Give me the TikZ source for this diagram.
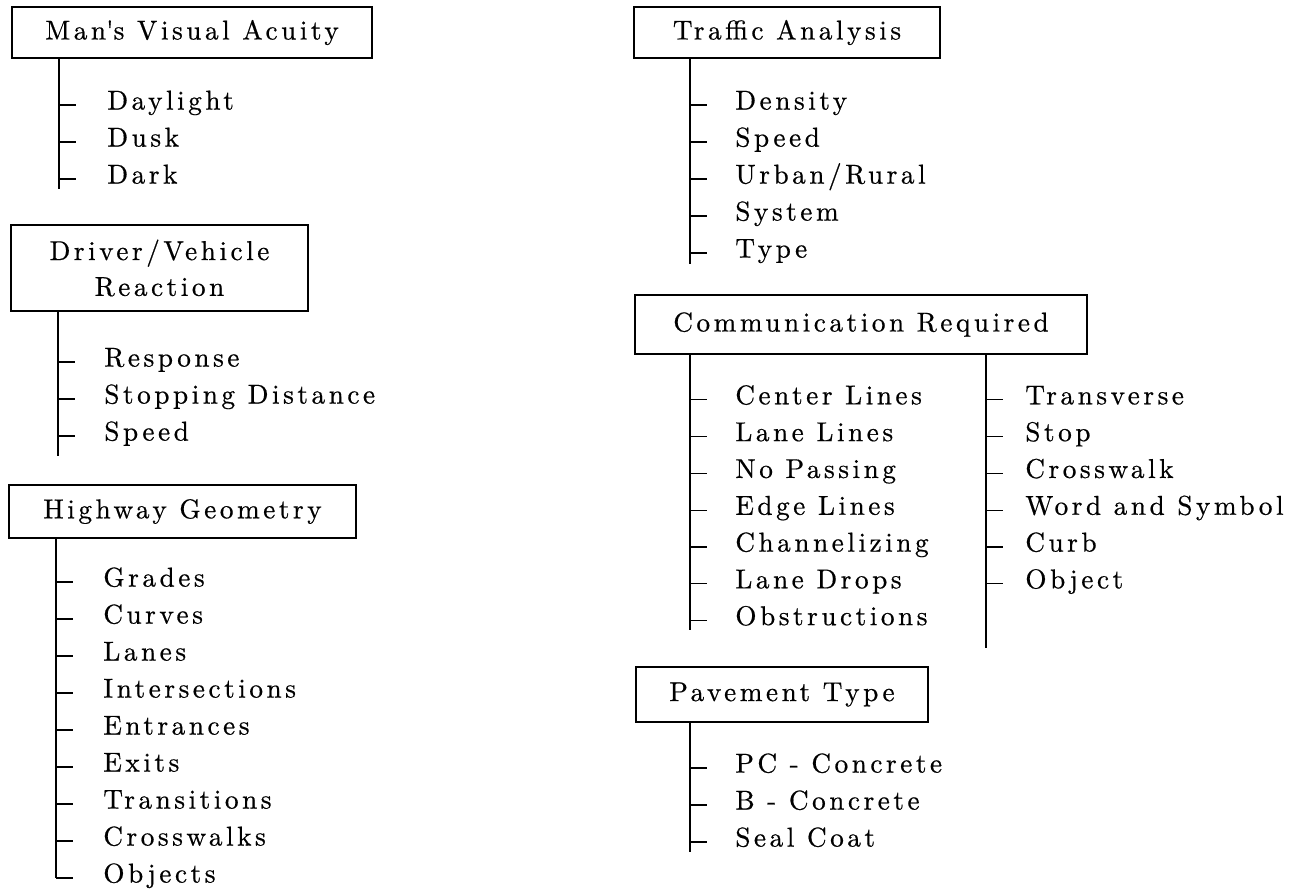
\documentclass[tikz,border=0pt]{standalone}
\usepackage{fontspec}
\newfontfamily\spaced{lmroman10-regular.otf}[LetterSpace=13,FakeBold=0.6]

\begin{document}
\begin{tikzpicture}[x=0.02cm,y=-0.02cm,font=\spaced\fontsize{15.5}{20.4}\selectfont,
  hdr/.style={draw,line width=0.8pt,inner sep=2pt,align=center},
  item/.style={anchor=west,inner sep=0pt,text height=1.6ex,text depth=0.4ex},
  stem/.style={line width=0.7pt}]
  \useasboundingbox (0,0) rectangle (1313,894);
  % left column
  \node[hdr,minimum width=7.2cm,minimum height=1.02cm] (mva) at (192,32.5) {Man\textquotesingle s Visual Acuity};
  \coordinate (mvaend) at (59,189);
  \foreach \t [count=\i] in {Daylight,Dusk,Dark}
    \node[item] (mva\i) at (107,{68+37*\i}) {\t};
  \draw[stem] (mva.south -| mvaend) -- (mvaend);
  \foreach \i in {1,...,3} \draw[stem] (mva\i.west -| mvaend) -- ++(17,0);

  \node[hdr,minimum width=5.94cm,minimum height=1.72cm] (dvr) at (159.5,268) {Driver/Vehicle\\Reaction};
  \coordinate (dvrend) at (58,456);
  \foreach \t [count=\i] in {Response,Stopping Distance,Speed}
    \node[item] (dvr\i) at (104,{325+37*\i}) {\t};
  \draw[stem] (dvr.south -| dvrend) -- (dvrend);
  \foreach \i in {1,...,3} \draw[stem] (dvr\i.west -| dvrend) -- ++(17,0);

  \node[hdr,minimum width=6.94cm,minimum height=1.06cm] (hg) at (182.5,511.5) {Highway Geometry};
  \foreach \t [count=\i] in {Grades,Curves,Lanes,Intersections,Entrances,Exits,Transitions,Crosswalks,Objects}
    \node[item] (hg\i) at (103,{545+37*\i}) {\t};
  \coordinate (hgend) at (hg9.west -| 56,0);
  \draw[stem] (hg.south -| hgend) -- (hgend);
  \foreach \i in {1,...,9} \draw[stem] (hg\i.west -| hgend) -- ++(17,0);

  % right column
  \node[hdr,minimum width=6.12cm,minimum height=1.02cm] (ta) at (787,32.5) {Traffic Analysis};
  \coordinate (taend) at (690,264);
  \foreach \t [count=\i] in {Density,Speed,Urban/Rural,System,Type}
    \node[item] (ta\i) at (735,{68+37*\i}) {\t};
  \draw[stem] (ta.south -| taend) -- (taend);
  \foreach \i in {1,...,5} \draw[stem] (ta\i.west -| taend) -- ++(17,0);

  \node[hdr,minimum width=9.04cm,minimum height=1.18cm] (cr) at (861,324.5) {Communication Required};
  \coordinate (crend) at (690,630);
  \coordinate (crendb) at (986,648);
  \foreach \t [count=\i] in {Center Lines,Lane Lines,No Passing,Edge Lines,Channelizing,Lane Drops,Obstructions}
    \node[item] (cr\i) at (735,{363+36.8*\i}) {\t};
  \foreach \t [count=\i] in {Transverse,Stop,Crosswalk,Word and Symbol,Curb,Object}
    \node[item] (crb\i) at (1025,{363+36.8*\i}) {\t};
  \draw[stem] (cr.south -| crend) -- (crend);
  \draw[stem] (cr.south -| crendb) -- (crendb);
  \foreach \i in {1,...,7} \draw[stem] (cr\i.west -| crend) -- ++(17,0);
  \foreach \i in {1,...,6} \draw[stem] (crb\i.west -| crendb) -- ++(17,0);

  \node[hdr,minimum width=5.84cm,minimum height=1.1cm] (pt) at (782,694.5) {Pavement Type};
  \coordinate (ptend) at (690,852);
  \foreach \t [count=\i] in {PC - Concrete,B - Concrete,Seal Coat}
    \node[item] (pt\i) at (735,{731+37*\i}) {\t};
  \draw[stem] (pt.south -| ptend) -- (ptend);
  \foreach \i in {1,...,3} \draw[stem] (pt\i.west -| ptend) -- ++(17,0);
\end{tikzpicture}
\end{document}
